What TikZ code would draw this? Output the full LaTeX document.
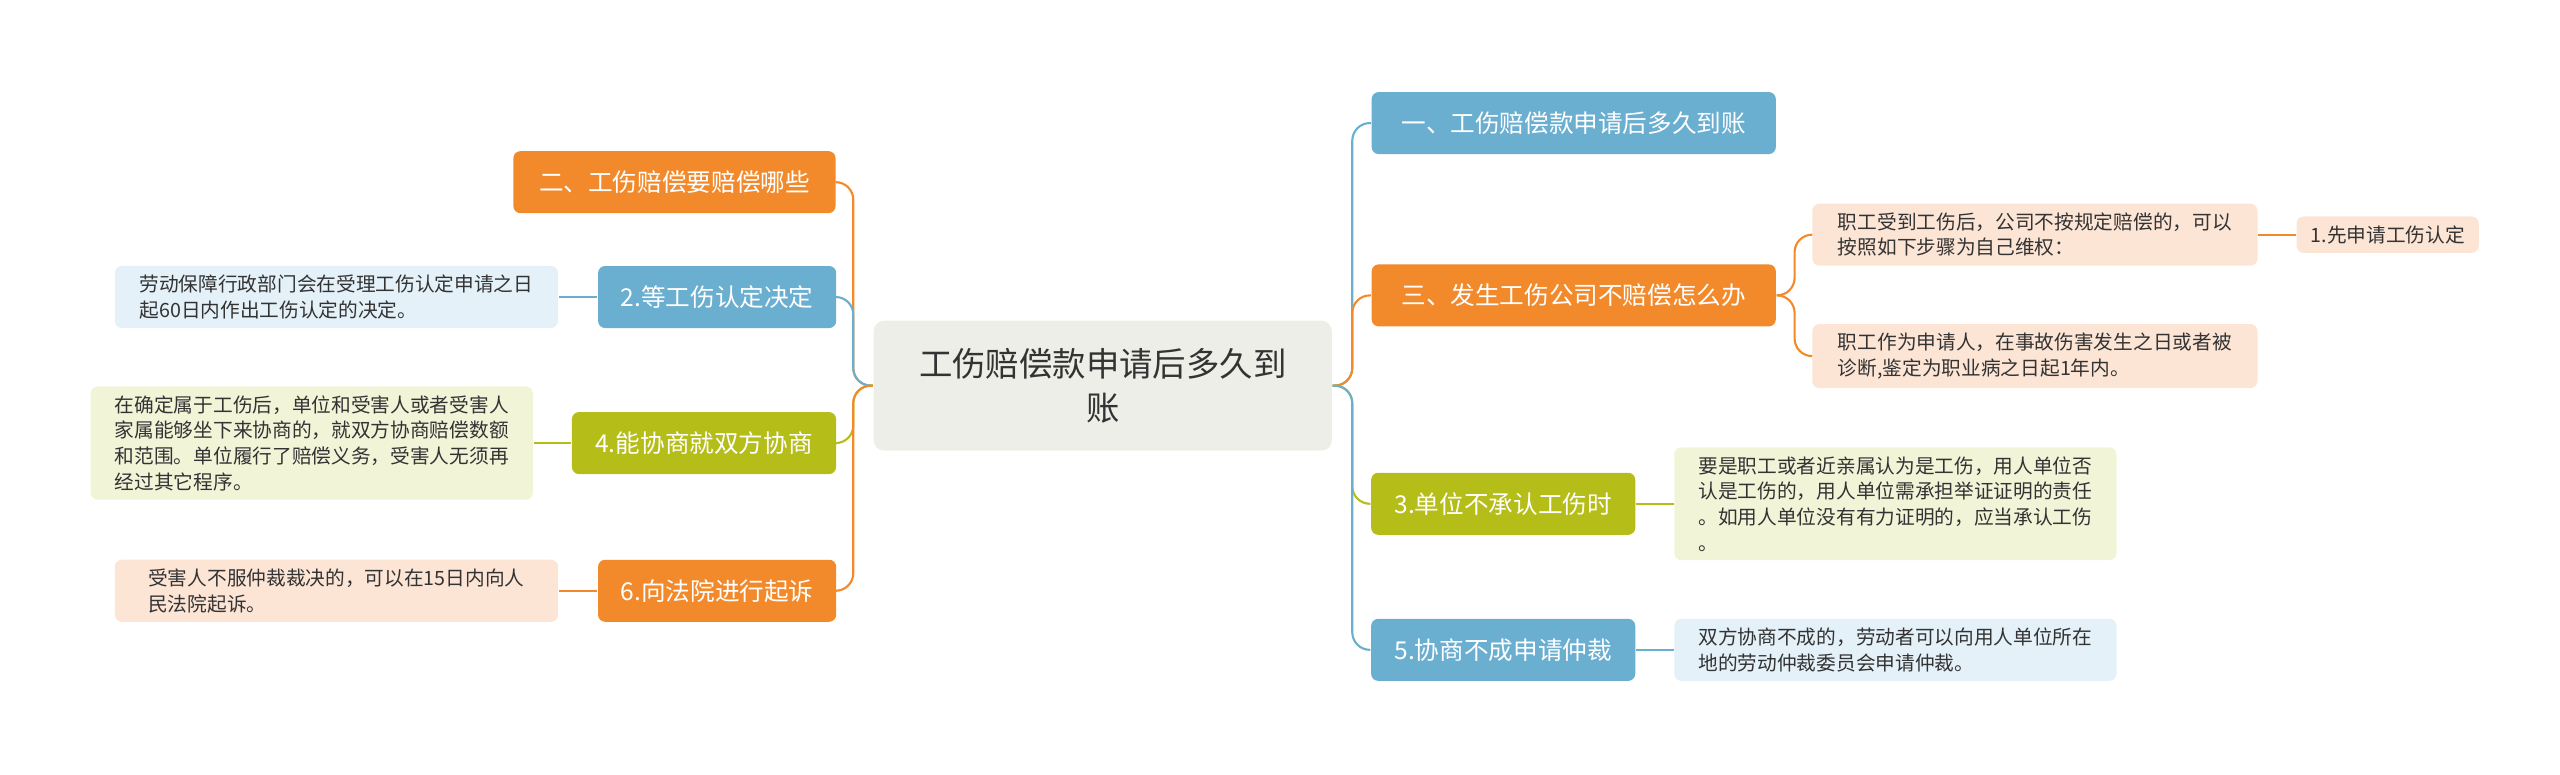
\documentclass[tikz,border=0pt]{standalone}
\usepackage{fontspec}
\setmainfont{Noto Sans CJK SC}
\usetikzlibrary{positioning}
\definecolor{cblue}{HTML}{6AAED0}
\definecolor{corange}{HTML}{F28A2B}
\definecolor{colive}{HTML}{B5BD19}
\definecolor{lblue}{HTML}{E4F1F9}
\definecolor{lorange}{HTML}{FDE5D6}
\definecolor{lolive}{HTML}{F2F4D8}
\definecolor{lroot}{HTML}{EEEEE8}

\begin{document}
\begin{tikzpicture}[x=0.01641cm, y=-0.01641cm,
    rootbox/.style={fill=lroot, rounded corners=3pt, minimum width=4.58cm, minimum height=1.3cm, align=center, font=\fontsize{9.5pt}{12.5pt}\selectfont, text=black!80},
    topic/.style={fill=#1, rounded corners=2pt, minimum height=0.62cm, inner xsep=0.15cm, font=\fontsize{7pt}{9pt}\selectfont, text=white},
    leaf/.style={fill=#1, rounded corners=2pt, align=left, inner xsep=0.14cm, inner ysep=0.09cm, font=\fontsize{5.6pt}{7.3pt}\selectfont, text=black!80},
    link/.style={draw=#1, line width=0.6pt, rounded corners=5pt}]
    \useasboundingbox (0,0) rectangle (1560,472);

    % root
    \node[rootbox] (root) at (672,235) {工伤赔偿款申请后多久到\\账};

    % right branch
    \node[topic=cblue, minimum width=4.04cm] (r1) at (959,75) {一、工伤赔偿款申请后多久到账};
    \node[topic=corange, minimum width=4.04cm] (r2) at (959,180) {三、发生工伤公司不赔偿怎么办};
    \node[topic=colive, minimum width=2.64cm] (r3) at (916,307) {3.单位不承认工伤时};
    \node[topic=cblue, minimum width=2.64cm] (r4) at (916,396) {5.协商不成申请仲裁};

    \node[leaf=lorange, minimum width=4.45cm] (r2a) at (1240,143) {职工受到工伤后，公司不按规定赔偿的，可以\\按照如下步骤为自己维权：};
    \node[leaf=lorange] (r2a1) at (1455,143) {1.先申请工伤认定};
    \node[leaf=lorange, minimum width=4.45cm] (r2b) at (1240,217) {职工作为申请人，在事故伤害发生之日或者被\\诊断,鉴定为职业病之日起1年内。};
    \node[leaf=lolive, minimum width=4.42cm] (r3a) at (1155,307) {要是职工或者近亲属认为是工伤，用人单位否\\认是工伤的，用人单位需承担举证证明的责任\\。如用人单位没有有力证明的，应当承认工伤\\。};
    \node[leaf=lblue, minimum width=4.42cm] (r4a) at (1155,396) {双方协商不成的，劳动者可以向用人单位所在\\地的劳动仲裁委员会申请仲裁。};

    % left branch
    \node[topic=corange, minimum width=3.22cm] (l1) at (411,111) {二、工伤赔偿要赔偿哪些};
    \node[topic=cblue, minimum width=2.38cm] (l2) at (437,181) {2.等工伤认定决定};
    \node[topic=colive, minimum width=2.64cm] (l3) at (429,270) {4.能协商就双方协商};
    \node[topic=corange, minimum width=2.38cm] (l4) at (437,360) {6.向法院进行起诉};

    \node[leaf=lblue, minimum width=4.43cm] (l2a) at (205,181) {劳动保障行政部门会在受理工伤认定申请之日\\起60日内作出工伤认定的决定。};
    \node[leaf=lolive, minimum width=4.42cm] (l3a) at (190,270) {在确定属于工伤后，单位和受害人或者受害人\\家属能够坐下来协商的，就双方协商赔偿数额\\和范围。单位履行了赔偿义务，受害人无须再\\经过其它程序。};
    \node[leaf=lorange, minimum width=4.43cm] (l4a) at (205,360) {受害人不服仲裁裁决的，可以在15日内向人\\民法院起诉。};

    % connectors
    \foreach \t/\c in {r1/cblue, r2/corange, r3/colive, r4/cblue}
        \draw[link=\c] (root.east) -- ++(12,0) |- (\t.west);
    \foreach \t/\c in {l1/corange, l2/cblue, l3/colive, l4/corange}
        \draw[link=\c] (root.west) -- ++(-12,0) |- (\t.east);
    \foreach \t in {r2a, r2b}
        \draw[link=corange] (r2.east) -- ++(11,0) |- (\t.west);
    \draw[link=corange] (r2a) -- (r2a1);
    \draw[link=colive] (r3) -- (r3a);
    \draw[link=cblue] (r4) -- (r4a);
    \draw[link=cblue] (l2) -- (l2a);
    \draw[link=colive] (l3) -- (l3a);
    \draw[link=corange] (l4) -- (l4a);
\end{tikzpicture}
\end{document}
